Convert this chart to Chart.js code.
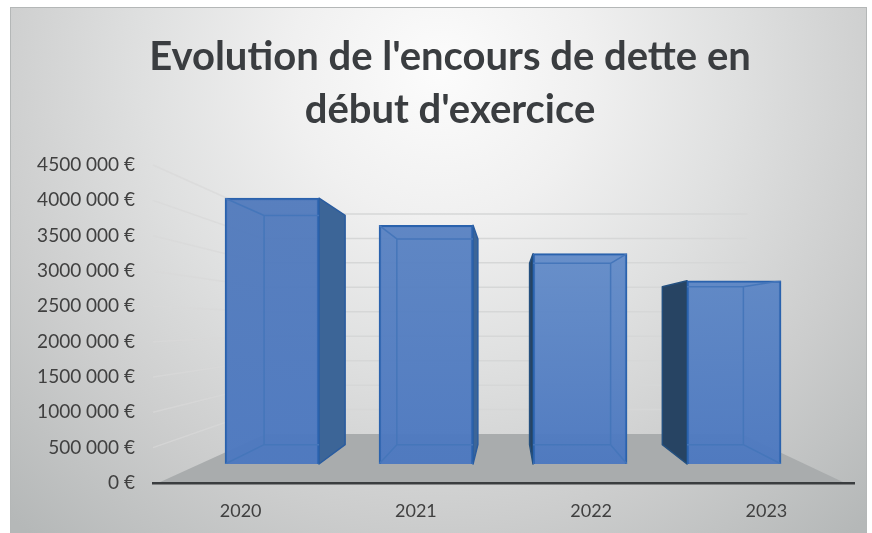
<!DOCTYPE html>
<html lang="fr">
<head>
<meta charset="utf-8">
<title>Evolution de l'encours de dette</title>
<style>html,body{margin:0;padding:0;background:#fff}canvas{display:block}</style>
<script src="https://cdn.jsdelivr.net/npm/chart.js@4"></script>
</head>
<body>
<canvas id="c" width="872" height="533"></canvas>
<script>
const years = ['2020', '2021', '2022', '2023'];
const encours = [4310000, 3870000, 3410000, 2970000];
const barSlots = [0, 1, 2, 3];
const titleLines = ["Evolution de l'encours de dette en", "début d'exercice"];
const topShades = ['#5079bb', '#5a83c2', '#6a92cb', '#648dc8'];
const bottomShade = '#4c78c0';

const BAR_DEPTH = 0.862, WALL_DEPTH = 0.692;
const VANISH_X = 0.5064, VANISH_Y = 0.5;

function project(ca, x, y, s) {
  const vx = ca.left + VANISH_X * ca.width, vy = ca.top + VANISH_Y * ca.height;
  return [vx + s * (x - vx), vy + s * (y - vy)];
}
function poly(ctx, pts, fill, stroke, lw) {
  ctx.beginPath();
  pts.forEach((p, i) => i ? ctx.lineTo(p[0], p[1]) : ctx.moveTo(p[0], p[1]));
  ctx.closePath();
  if (fill) { ctx.fillStyle = fill; ctx.fill(); }
  if (stroke) { ctx.strokeStyle = stroke; ctx.lineWidth = lw || 1; ctx.lineJoin = 'round'; ctx.stroke(); }
}

const scene = {
  id: 'scene',
  afterLayout(chart) {
    // long tick labels need more room than the axis box; widen its clip only
    chart.scales.y.left = 20;
  },
  beforeDraw(chart) {
    const { ctx, chartArea: ca, scales } = chart;
    ctx.save();
    // panel background
    const L = 11, T = 8, R = 866, B = 533;
    const g = ctx.createRadialGradient(440, 70, 0, 440, 70, 620);
    g.addColorStop(0, '#fcfcfc');
    g.addColorStop(0.24, '#f0f0f0');
    g.addColorStop(0.48, '#dfe0e0');
    g.addColorStop(0.73, '#cccdcd');
    g.addColorStop(1, '#b5b8b8');
    ctx.fillStyle = g;
    ctx.fillRect(L, T, R - L, B - T);
    ctx.strokeStyle = '#b4b7b7';
    ctx.lineWidth = 1;
    ctx.strokeRect(L - 0.5, T - 0.5, R - L + 1, B - T + 1);
    // floor
    const y0 = scales.y.getPixelForValue(0);
    const fl = ca.left + 5, fr = ca.right - 9;
    poly(ctx, [[fl, y0], [fr, y0], project(ca, fr, y0, WALL_DEPTH), project(ca, fl, y0, WALL_DEPTH)], '#a9acad');
    // gridlines on side wall and back wall
    ctx.lineWidth = 1.5;
    scales.y.ticks.forEach(t => {
      if (t.value === 0) return;
      const py = scales.y.getPixelForValue(t.value);
      const a = project(ca, ca.left, py, WALL_DEPTH);
      const b = project(ca, ca.right, py, WALL_DEPTH);
      ctx.strokeStyle = 'rgba(216,217,217,0.7)';
      ctx.beginPath();
      ctx.moveTo(ca.left, py);
      ctx.lineTo(a[0], a[1]);
      ctx.stroke();
      ctx.strokeStyle = '#d6d7d7';
      ctx.beginPath();
      ctx.moveTo(a[0], a[1]);
      ctx.lineTo(b[0], b[1]);
      ctx.stroke();
    });
    ctx.restore();
  },
  beforeDatasetsDraw(chart) {
    const { ctx, chartArea: ca } = chart;
    const vx = ca.left + VANISH_X * ca.width;
    ctx.save();
    chart.getDatasetMeta(0).data.forEach(bar => {
      const xl = bar.x - bar.width / 2, xr = bar.x + bar.width / 2, yt = bar.y, yb = bar.base;
      const bxl = project(ca, xl, yt, BAR_DEPTH), bxr = project(ca, xr, yt, BAR_DEPTH);
      const bbl = project(ca, xl, yb, BAR_DEPTH), bbr = project(ca, xr, yb, BAR_DEPTH);
      // outer side face
      if (bar.x < vx) {
        poly(ctx, [[xr, yt], bxr, bbr, [xr, yb]], '#3c6597', '#2a5c9f', 1.5);
      } else {
        poly(ctx, [[xl, yt], bxl, bbl, [xl, yb]], '#274463', '#24507f', 1.5);
      }
    });
    ctx.restore();
  },
  afterDatasetsDraw(chart) {
    const { ctx, chartArea: ca } = chart;
    ctx.save();
    ctx.strokeStyle = '#4576ba';
    ctx.lineWidth = 1.5;
    chart.getDatasetMeta(0).data.forEach(bar => {
      const xl = bar.x - bar.width / 2, xr = bar.x + bar.width / 2, yt = bar.y, yb = bar.base;
      const c = [[xl, yt], [xr, yt], [xr, yb], [xl, yb]];
      const back = c.map(p => project(ca, p[0], p[1], BAR_DEPTH));
      ctx.save();
      ctx.beginPath();
      ctx.rect(xl, yt, xr - xl, yb - yt);
      ctx.clip();
      ctx.beginPath();
      back.forEach((p, i) => i ? ctx.lineTo(p[0], p[1]) : ctx.moveTo(p[0], p[1]));
      ctx.closePath();
      c.forEach((p, i) => { ctx.moveTo(p[0], p[1]); ctx.lineTo(back[i][0], back[i][1]); });
      ctx.stroke();
      ctx.restore();
    });
    ctx.restore();
  }
};

const canvas = document.getElementById('c');
// a tiny letter spacing switches off the "ti"/"tt" ligatures of the font
canvas.getContext('2d').letterSpacing = '0.01px';

new Chart(canvas, {
  type: 'bar',
  plugins: [scene],
  data: {
    labels: years,
    datasets: [{
      data: barSlots.map((slot, i) => ({ x: slot, y: encours[i] })),
      xAxisID: 'barX',
      yAxisID: 'barY',
      barThickness: 94,
      borderColor: '#2a62ad',
      borderWidth: 2,
      backgroundColor(ctx) {
        const a = ctx.chart.chartArea;
        if (!a) return topShades[ctx.dataIndex];
        const el = ctx.chart.getDatasetMeta(0).data[ctx.dataIndex];
        const top = el && el.y ? el.y : a.top;
        const g = ctx.chart.ctx.createLinearGradient(0, top, 0, a.bottom - 19);
        g.addColorStop(0, topShades[ctx.dataIndex] + 'f0');
        g.addColorStop(1, bottomShade + 'f5');
        return g;
      }
    }]
  },
  options: {
    responsive: false,
    animation: false,
    layout: { padding: { left: 46, right: 18, top: 0, bottom: 0 } },
    plugins: {
      legend: { display: false },
      tooltip: { enabled: false },
      title: {
        display: true,
        text: titleLines,
        color: '#3a3d40',
        font: { family: 'Lato', size: 40, weight: 'bold', lineHeight: 53 / 40 },
        padding: { top: 31, bottom: 28 }
      }
    },
    scales: {
      x: {
        type: 'category',
        offset: true,
        grid: { display: false },
        border: { display: true, color: '#3a3d3f', width: 2.5 },
        ticks: { color: '#404040', padding: 9, maxRotation: 0, font: { family: 'Lato', size: 18 } },
        afterFit(s) { s.height = 50; }
      },
      y: {
        type: 'linear',
        min: 0,
        max: 4500000,
        grid: { display: false, drawTicks: false },
        border: { display: false },
        ticks: {
          stepSize: 500000,
          padding: 18,
          color: '#404040',
          font: { family: 'Lato', size: 19 },
          callback: v => v === 0 ? '0 €' : Math.round(v / 1000) + ' 000 €'
        },
        afterFit(s) { s.width = 107; }
      },
      barX: { type: 'linear', display: false, offset: false, min: -0.773, max: 3.779 },
      barY: { type: 'linear', display: false, min: -308000, max: 4847000 }
    }
  }
});
</script>
</body>
</html>
